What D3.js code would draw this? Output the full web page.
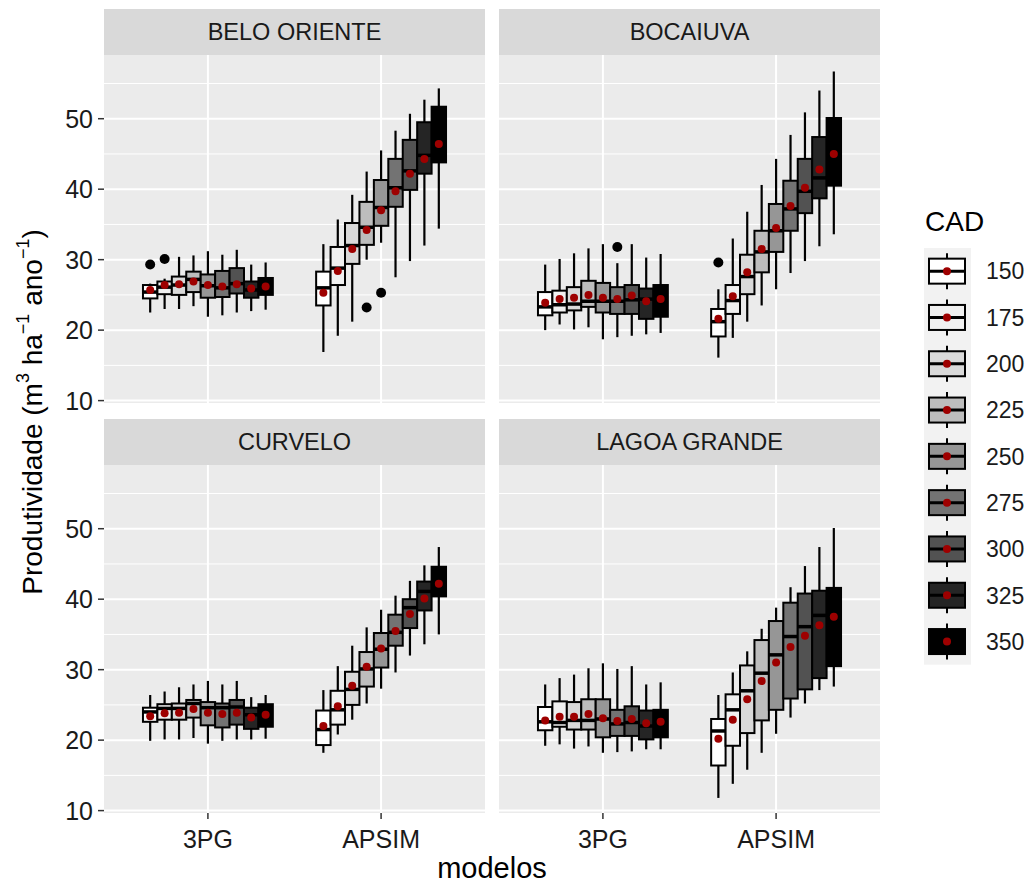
<!DOCTYPE html>
<html>
<head>
<meta charset="utf-8">
<script src="https://cdn.jsdelivr.net/npm/d3@7"></script>
<style>
  body { margin: 0; background: #fff; }
  text { font-family: "Liberation Sans", Arial, sans-serif; }
</style>
</head>
<body>
<div id="chart"></div>
<script>
// categories
var sites = ["BELO ORIENTE", "BOCAIUVA", "CURVELO", "LAGOA GRANDE"];
var models = ["3PG", "APSIM"];
var cad = ["150", "175", "200", "225", "250", "275", "300", "325", "350"];
var yTicks = [10, 20, 30, 40, 50];
var yMinor = [15, 25, 35, 45, 55];
var cadFill = ["#ffffff", "#f0f0f0", "#d9d9d9", "#bdbdbd", "#969696", "#737373", "#525252", "#252525", "#000000"];

// box stats per CAD: [whisker low, q1, median, q3, whisker high, mean]
var beloOriente3PG = [
  [22.5, 24.5, 25.4, 26.4, 26.6, 25.7], [23.0, 25.1, 26.1, 26.9, 27.3, 26.4],
  [23.0, 25.0, 26.4, 27.6, 30.4, 26.5], [23.4, 25.4, 27.2, 28.3, 30.6, 26.9],
  [21.9, 24.6, 26.3, 27.9, 31.2, 26.4], [22.1, 24.7, 26.0, 28.4, 30.7, 26.2],
  [22.5, 25.2, 26.6, 28.8, 31.4, 26.5], [22.7, 24.6, 25.7, 26.9, 29.3, 25.9],
  [22.9, 25.0, 26.2, 27.4, 29.6, 26.2]
];
var beloOrienteAPSIM = [
  [16.9, 23.5, 26.0, 28.3, 32.2, 25.3], [19.2, 26.4, 28.8, 31.8, 35.7, 28.4],
  [21.2, 29.4, 32.0, 35.2, 39.2, 31.5], [30.0, 32.1, 34.6, 38.2, 42.5, 34.2],
  [32.4, 34.8, 37.4, 41.3, 45.5, 37.0], [27.5, 37.5, 40.2, 44.3, 48.3, 39.7],
  [29.8, 39.9, 42.6, 47.0, 50.7, 42.2], [32.0, 42.2, 44.8, 49.5, 52.7, 44.3],
  [34.4, 43.8, 46.8, 51.7, 54.3, 46.4]
];
var bocaiuva3PG = [
  [20.0, 22.1, 23.3, 25.4, 29.3, 23.9], [20.8, 22.5, 23.6, 25.6, 30.1, 24.4],
  [20.1, 22.8, 23.7, 26.1, 30.9, 24.6], [20.4, 23.3, 24.1, 27.0, 31.6, 25.0],
  [18.7, 22.5, 24.1, 26.7, 32.2, 24.6], [19.0, 22.3, 24.1, 26.1, 29.5, 24.4],
  [19.2, 22.3, 24.3, 26.4, 32.2, 24.9], [19.4, 21.6, 24.4, 25.9, 30.3, 24.1],
  [19.6, 21.9, 24.6, 26.4, 30.8, 24.4]
];
var bocaiuvaAPSIM = [
  [16.1, 19.1, 21.2, 23.0, 25.8, 21.6], [18.9, 22.3, 24.2, 26.4, 33.0, 24.8],
  [21.2, 25.1, 27.6, 30.7, 36.8, 28.2], [23.5, 28.2, 31.1, 34.1, 40.6, 31.5],
  [25.8, 31.1, 34.1, 37.9, 44.3, 34.5], [28.1, 34.1, 37.2, 41.2, 47.7, 37.6],
  [29.8, 36.6, 39.7, 44.3, 50.9, 40.2], [31.9, 38.7, 41.6, 47.4, 54.0, 42.8],
  [33.6, 40.5, 44.6, 50.1, 56.7, 45.0]
];
var curvelo3PG = [
  [19.9, 22.6, 24.0, 24.6, 26.4, 23.4], [20.1, 22.9, 24.5, 25.1, 26.9, 23.8],
  [20.1, 22.9, 24.5, 25.2, 27.5, 23.9], [20.3, 23.2, 25.2, 25.7, 27.9, 24.4],
  [19.5, 22.1, 24.6, 25.4, 28.4, 23.9], [19.9, 21.8, 24.6, 25.2, 27.9, 23.7],
  [20.1, 22.2, 24.7, 25.7, 28.4, 23.9], [20.1, 21.6, 23.6, 24.6, 26.1, 23.2],
  [20.2, 21.9, 23.8, 25.1, 26.4, 23.6]
];
var curveloAPSIM = [
  [18.2, 19.3, 21.5, 24.2, 27.1, 22.0], [20.8, 22.2, 24.3, 27.0, 30.5, 24.8],
  [22.9, 25.0, 27.2, 29.7, 33.4, 27.7], [25.2, 27.6, 30.1, 32.5, 36.0, 30.4],
  [27.3, 30.3, 32.9, 35.2, 38.5, 33.0], [29.6, 33.4, 35.3, 37.8, 40.5, 35.5],
  [32.0, 35.9, 38.8, 40.0, 42.6, 37.9], [33.6, 38.4, 41.1, 42.5, 44.8, 40.1],
  [35.0, 40.4, 42.6, 44.6, 47.4, 42.2]
];
var lagoaGrande3PG = [
  [19.2, 21.4, 22.6, 24.7, 27.9, 22.8], [19.4, 21.9, 22.5, 25.5, 28.8, 23.3],
  [18.8, 21.5, 22.8, 25.4, 29.3, 23.3], [19.1, 21.5, 22.8, 25.8, 30.2, 23.7],
  [18.2, 20.4, 23.0, 25.8, 30.9, 23.1], [18.3, 20.6, 22.3, 24.3, 30.1, 22.7],
  [18.4, 20.6, 22.5, 24.8, 30.5, 23.0], [18.7, 20.1, 22.0, 24.2, 27.9, 22.4],
  [18.7, 20.4, 22.4, 24.3, 28.2, 22.6]
];
var lagoaGrandeAPSIM = [
  [11.8, 16.4, 21.3, 23.0, 26.4, 20.2], [13.8, 19.2, 24.3, 26.5, 29.6, 22.9],
  [15.8, 21.0, 27.0, 30.6, 32.6, 25.8], [18.2, 22.8, 29.5, 34.2, 35.8, 28.4],
  [20.9, 24.3, 32.1, 36.9, 38.8, 31.0], [23.2, 25.9, 34.7, 39.5, 41.7, 33.2],
  [25.2, 27.2, 36.1, 40.8, 44.7, 34.8], [27.1, 28.8, 37.7, 41.2, 47.4, 36.3],
  [27.6, 30.5, 38.5, 41.6, 50.1, 37.5]
];
// outlying points: [site, model, cad, value]
var outlierPoints = [
  ["BELO ORIENTE", "3PG", "150", 29.3], ["BELO ORIENTE", "3PG", "175", 30.1],
  ["BELO ORIENTE", "APSIM", "225", 23.2], ["BELO ORIENTE", "APSIM", "250", 25.3],
  ["BOCAIUVA", "3PG", "275", 31.8], ["BOCAIUVA", "APSIM", "150", 29.6]
];

var boxStats = {
  "BELO ORIENTE": { "3PG": beloOriente3PG, "APSIM": beloOrienteAPSIM },
  "BOCAIUVA": { "3PG": bocaiuva3PG, "APSIM": bocaiuvaAPSIM },
  "CURVELO": { "3PG": curvelo3PG, "APSIM": curveloAPSIM },
  "LAGOA GRANDE": { "3PG": lagoaGrande3PG, "APSIM": lagoaGrandeAPSIM }
};

var W = 1031, H = 886;
var svg = d3.select("#chart").append("svg").attr("width", W).attr("height", H);

var panelW = 381, panelH = 348, stripH = 46;
var colX = [104, 499], rowY = [55, 465];

var x = d3.scalePoint().domain(models).range([0, panelW]).padding(0.6);
var dodge = d3.scaleBand().domain(cad).range([-0.375 * x.step(), 0.375 * x.step()]);
var y = d3.scaleLinear().domain([9.66, 59.04]).range([panelH, 0]);

sites.forEach(function (site, si) {
  var col = si % 2, row = Math.floor(si / 2);
  var g = svg.append("g").attr("transform", "translate(" + colX[col] + "," + rowY[row] + ")");

  // strip
  g.append("rect").attr("x", 0).attr("y", -stripH).attr("width", panelW).attr("height", stripH).attr("fill", "#d9d9d9");
  g.append("text").attr("x", panelW / 2).attr("y", -stripH / 2).attr("dy", "0.35em")
    .attr("text-anchor", "middle").attr("font-size", 23.5).attr("fill", "#1a1a1a").text(site);

  // panel background + grid
  g.append("rect").attr("width", panelW).attr("height", panelH).attr("fill", "#ebebeb");
  g.selectAll(".minor").data(yMinor).enter().append("line")
    .attr("x1", 0).attr("x2", panelW).attr("y1", y).attr("y2", y)
    .attr("stroke", "#fff").attr("stroke-width", 1);
  g.selectAll(".major").data(yTicks).enter().append("line")
    .attr("x1", 0).attr("x2", panelW).attr("y1", y).attr("y2", y)
    .attr("stroke", "#fff").attr("stroke-width", 2);
  g.selectAll(".vmajor").data(models).enter().append("line")
    .attr("x1", x).attr("x2", x).attr("y1", 0).attr("y2", panelH)
    .attr("stroke", "#fff").attr("stroke-width", 2);

  var bw = dodge.bandwidth();
  models.forEach(function (m) {
    var stats = boxStats[site][m];
    stats.forEach(function (s, i) {
      var xc = x(m) + dodge(cad[i]) + bw / 2;
      var bx = g.append("g");
      bx.append("line").attr("x1", xc).attr("x2", xc).attr("y1", y(s[0])).attr("y2", y(s[1]))
        .attr("stroke", "#000").attr("stroke-width", 2.2);
      bx.append("line").attr("x1", xc).attr("x2", xc).attr("y1", y(s[3])).attr("y2", y(s[4]))
        .attr("stroke", "#000").attr("stroke-width", 2.2);
      bx.append("rect").attr("x", xc - bw / 2).attr("width", bw)
        .attr("y", y(s[3])).attr("height", y(s[1]) - y(s[3]))
        .attr("fill", cadFill[i]).attr("stroke", "#000").attr("stroke-width", 2);
      bx.append("line").attr("x1", xc - bw / 2).attr("x2", xc + bw / 2).attr("y1", y(s[2])).attr("y2", y(s[2]))
        .attr("stroke", "#000").attr("stroke-width", 3.5);
    });
  });

  // outliers
  g.selectAll(".out").data(outlierPoints.filter(function (d) { return d[0] === site; }))
    .enter().append("circle")
    .attr("cx", function (d) { return x(d[1]) + dodge(d[2]) + bw / 2; })
    .attr("cy", function (d) { return y(d[3]); })
    .attr("r", 5).attr("fill", "#000");

  // means
  models.forEach(function (m) {
    g.selectAll(".mean-" + m).data(boxStats[site][m]).enter().append("circle")
      .attr("cx", function (d, i) { return x(m) + dodge(cad[i]) + bw / 2; })
      .attr("cy", function (d) { return y(d[5]); })
      .attr("r", 4).attr("fill", "#9e0000");
  });

  // y axis on left column
  if (col === 0) {
    var ax = g.selectAll(".ytick").data(yTicks).enter().append("g");
    ax.append("line").attr("x1", -6).attr("x2", 0).attr("y1", y).attr("y2", y)
      .attr("stroke", "#333").attr("stroke-width", 1.5);
    ax.append("text").attr("x", -11).attr("y", y).attr("dy", "0.36em")
      .attr("text-anchor", "end").attr("font-size", 25).attr("fill", "#1a1a1a")
      .text(function (d) { return d; });
  }
  // x axis on bottom row
  if (row === 1) {
    var bx2 = g.selectAll(".xtick").data(models).enter().append("g");
    bx2.append("line").attr("x1", x).attr("x2", x).attr("y1", panelH).attr("y2", panelH + 6)
      .attr("stroke", "#333").attr("stroke-width", 1.5);
    bx2.append("text").attr("x", x).attr("y", panelH + 35)
      .attr("text-anchor", "middle").attr("font-size", 25).attr("fill", "#1a1a1a")
      .text(function (d) { return d; });
  }
});

// axis titles
svg.append("text").attr("x", 492).attr("y", 878).attr("text-anchor", "middle")
  .attr("font-size", 29).attr("fill", "#000").text("modelos");

var yt = svg.append("text").attr("transform", "translate(42,412) rotate(-90)")
  .attr("text-anchor", "middle").attr("font-size", 28).attr("fill", "#000");
yt.append("tspan").text("Produtividade (m");
yt.append("tspan").attr("font-size", 18).attr("dy", -13).text("3");
yt.append("tspan").attr("dy", 13).text(" ha");
yt.append("tspan").attr("font-size", 18).attr("dy", -13).text("\u22121");
yt.append("tspan").attr("dy", 13).text(" ano");
yt.append("tspan").attr("font-size", 18).attr("dy", -13).text("\u22121");
yt.append("tspan").attr("dy", 13).text(")");

// legend
var lg = svg.append("g");
var keyH = 46.3, keyTop = 248;
lg.append("text").attr("x", 925).attr("y", 231).attr("font-size", 28).attr("fill", "#000").text("CAD");
lg.append("rect").attr("x", 924).attr("y", keyTop).attr("width", 47).attr("height", keyH * cad.length)
  .attr("fill", "#f2f2f2");
var keys = lg.selectAll(".key").data(cad).enter().append("g")
  .attr("transform", function (d, i) { return "translate(947," + (keyTop + keyH * i + keyH / 2) + ")"; });
keys.append("line").attr("x1", 0).attr("x2", 0).attr("y1", -18).attr("y2", 18)
  .attr("stroke", "#000").attr("stroke-width", 2);
keys.append("rect").attr("x", -18).attr("y", -12.5).attr("width", 36).attr("height", 25)
  .attr("fill", function (d, i) { return cadFill[i]; }).attr("stroke", "#000").attr("stroke-width", 2);
keys.append("line").attr("x1", -18).attr("x2", 18).attr("y1", 0).attr("y2", 0)
  .attr("stroke", "#000").attr("stroke-width", 3);
keys.append("circle").attr("r", 4).attr("fill", "#9e0000");
keys.append("text").attr("x", 39).attr("y", 0).attr("dy", "0.36em")
  .attr("font-size", 23).attr("fill", "#1a1a1a").text(function (d) { return d; });
</script>
</body>
</html>
